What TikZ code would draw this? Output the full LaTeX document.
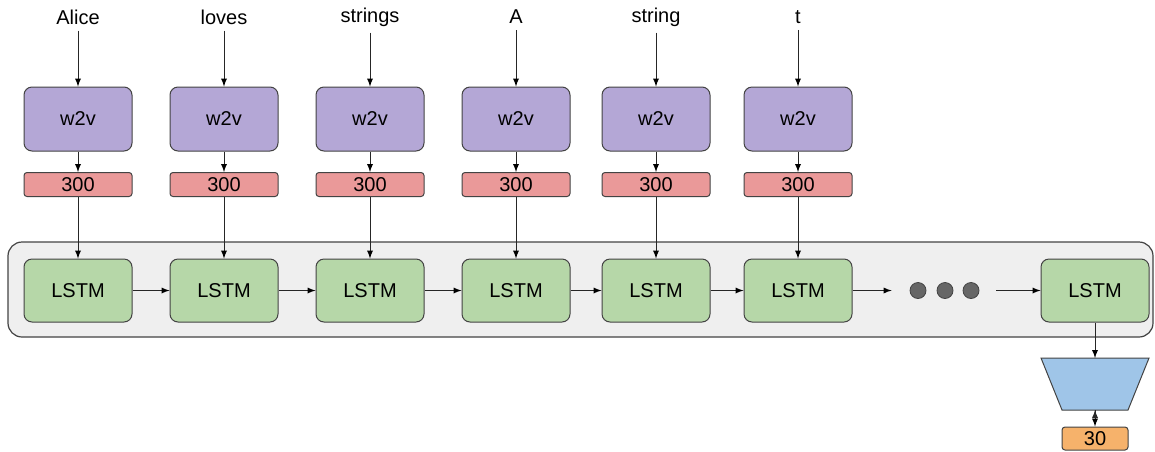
\documentclass[tikz,border=0pt]{standalone}
\usepackage{fontspec}
\setmainfont{Liberation Sans}
\usetikzlibrary{arrows}

\definecolor{embedc}{HTML}{B4A7D6}
\definecolor{vecc}{HTML}{EA9999}
\definecolor{cellc}{HTML}{B6D7A8}
\definecolor{densec}{HTML}{9FC5E8}
\definecolor{outc}{HTML}{F6B26B}
\definecolor{panelc}{HTML}{EFEFEF}
\definecolor{dotc}{HTML}{666666}
\definecolor{edgec}{HTML}{434343}

\tikzset{
  every node/.style={font=\fontsize{10}{12}\selectfont},
  word/.style={inner sep=3pt},
  embed/.style={draw=edgec, fill=embedc, rounded corners=4pt, minimum width=54pt, minimum height=32pt, line width=0.5pt},
  vec/.style={draw=edgec, fill=vecc, rounded corners=1.5pt, minimum width=54pt, minimum height=12pt, inner sep=0pt, line width=0.5pt},
  cell/.style={draw=edgec, fill=cellc, rounded corners=4pt, minimum width=54pt, minimum height=31.5pt, line width=0.5pt},
  panel/.style={draw=edgec, fill=panelc, rounded corners=7pt, minimum width=572.5pt, minimum height=47.5pt, line width=0.6pt},
  blob/.style={circle, draw=edgec, fill=dotc, minimum size=8pt, inner sep=0pt, line width=0.4pt},
  dense/.style={draw=edgec, fill=densec, line width=0.5pt},
  outv/.style={draw=edgec, fill=outc, rounded corners=1.5pt, minimum width=33pt, minimum height=11.5pt, inner sep=0pt, line width=0.5pt},
  link/.style={->, >=latex, line width=0.4pt, draw=black!85}
}

\begin{document}
\begin{tikzpicture}[x=0.5pt, y=-0.5pt]
  \useasboundingbox (0,0) rectangle (1155,451);

  % recurrent part
  \node[panel] (rnn) at (580.5,289.5) {};

  \foreach \x/\w [count=\i] in {78/Alice, 224/loves, 370/strings, 516/A, 656/string, 798/t}
  {
    \node[word] (t\i) at (\x,17) {\w};
    \node[embed] (w\i) at (\x,119) {w2v};
    \node[vec] (v\i) at (\x,184.5) {300};
    \node[cell] (c\i) at (\x,290.5) {LSTM};
    \path[link]
      (t\i) edge (w\i)
      (w\i) edge (v\i)
      (v\i) edge (c\i);
  }

  \node[blob] (d1) at (918,290.5) {};
  \node[blob] (d2) at (945,290.5) {};
  \node[blob] (d3) at (971,290.5) {};
  \node[cell] (c7) at (1095,290.5) {LSTM};

  % classifier head
  \coordinate (fctop) at (1095,358);
  \coordinate (fcbot) at (1095,410);
  \draw[dense] (1041,358) -- (1149,358) -- (1128,410) -- (1062,410) -- cycle;
  \node[outv] (out) at (1095,438.5) {30};

  \path[link]
    (c1) edge (c2)
    (c2) edge (c3)
    (c3) edge (c4)
    (c4) edge (c5)
    (c5) edge (c6)
    (c6.east) edge ([xshift=-9pt]d1.west)
    ([xshift=8.5pt]d3.east) edge (c7.west)
    (c7) edge (fctop)
    (fcbot) edge (out);
\end{tikzpicture}
\end{document}
